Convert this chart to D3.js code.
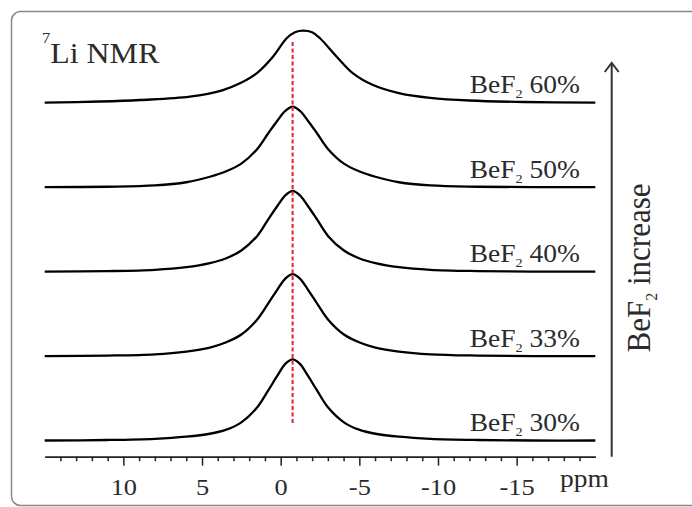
<!DOCTYPE html>
<html>
<head>
<meta charset="utf-8">
<script src="https://cdn.jsdelivr.net/npm/d3@7"></script>
<style>
  body { margin: 0; background: #fff; }
  text { font-family: "Liberation Serif", "Times New Roman", serif; fill: #2b2b2b; }
</style>
</head>
<body>
<script>
var width = 692, height = 507;

// chemical shift grid (ppm) shared by the four narrow spectra
var ppmNarrow = [15, 11, 8, 6, 4.5, 3.5, 2.5, 1.5, 0.8, 0.2, -0.31, -0.76, -1.21, -1.72, -2.32, -3.02, -4.02, -5.02, -6.02, -7.52, -9.52, -12.52, -16, -20];
var int30 = [0, 0.006, 0.02, 0.045, 0.08, 0.125, 0.215, 0.39, 0.59, 0.77, 0.91, 0.961, 0.91, 0.77, 0.59, 0.39, 0.215, 0.125, 0.08, 0.045, 0.02, 0.006, 0, 0];
var int33 = [0, 0.006, 0.021, 0.053, 0.10, 0.16, 0.255, 0.43, 0.62, 0.79, 0.92, 0.97, 0.92, 0.79, 0.62, 0.43, 0.255, 0.16, 0.10, 0.053, 0.021, 0.006, 0, 0];
var int40 = [0, 0.006, 0.021, 0.052, 0.10, 0.155, 0.25, 0.42, 0.615, 0.78, 0.905, 0.955, 0.905, 0.78, 0.615, 0.42, 0.25, 0.155, 0.10, 0.052, 0.021, 0.006, 0, 0];
var int50 = [0, 0.005, 0.02, 0.058, 0.123, 0.185, 0.279, 0.45, 0.635, 0.79, 0.905, 0.954, 0.905, 0.79, 0.635, 0.45, 0.279, 0.185, 0.123, 0.058, 0.02, 0.005, 0, 0];
// BeF2 60% is broader and shifted
var ppm60 = [15, 11.5, 8.94, 5.77, 3.67, 2.59, 1.53, 0.49, -0.38, -0.91, -1.44, -1.99, -2.5, -3.56, -4.6, -5.87, -7.58, -9.5, -12, -15.5, -20];
var int60 = [0, 0.014, 0.032, 0.071, 0.150, 0.230, 0.348, 0.545, 0.763, 0.835, 0.853, 0.835, 0.763, 0.545, 0.348, 0.21, 0.111, 0.058, 0.026, 0.008, 0];

var labels = ["30%", "33%", "40%", "50%", "60%"];
var majorTicks = [10, 5, 0, -5, -10, -15];
var minorTicks = d3.range(14, -20, -1).filter(function(d) { return d % 5 != 0; });
var refShift = -0.76; // red dashed reference line
var refSpan = [0.19, 4.72];

var spectra = [
  { ppm: ppmNarrow, val: int30 },
  { ppm: ppmNarrow, val: int33 },
  { ppm: ppmNarrow, val: int40 },
  { ppm: ppmNarrow, val: int50 },
  { ppm: ppm60, val: int60 }
];

var svg = d3.select("body").append("svg").attr("width", width).attr("height", height);

// rounded frame
svg.append("rect")
  .attr("x", 11.5).attr("y", 11.5)
  .attr("width", 720).attr("height", 494)
  .attr("rx", 9)
  .attr("fill", "none")
  .attr("stroke", "#888")
  .attr("stroke-width", 1.5);

var x = d3.scaleLinear().domain([15, -20]).range([44.7, 595.3]);
var y = d3.scaleLinear().domain([0, 5]).range([440.5, 440.5 - 5 * 84.45]);

var line = d3.line()
  .x(function(d) { return x(d[0]); })
  .y(function(d) { return y(d[1]); })
  .curve(d3.curveCatmullRom.alpha(0.5));

spectra.forEach(function(s, i) {
  var pts = s.ppm.map(function(p, j) { return [p, s.val[j] + i]; });
  svg.append("path")
    .attr("d", line(pts))
    .attr("fill", "none")
    .attr("stroke", "#000")
    .attr("stroke-width", 2.3)
    .attr("stroke-linejoin", "round");

  var t = svg.append("text")
    .attr("text-anchor", "end")
    .attr("font-size", 25)
    .attr("transform", "translate(580," + (y(i) - 9.5) + ") scale(1.1,1)");
  t.append("tspan").text("BeF");
  t.append("tspan").attr("font-size", 13).attr("dy", 5).text("2");
  t.append("tspan").attr("dy", -5).text(" " + labels[i]);
});

// reference line
svg.append("line")
  .attr("x1", x(refShift)).attr("x2", x(refShift))
  .attr("y1", y(refSpan[1])).attr("y2", y(refSpan[0]))
  .attr("stroke", "#e8303c")
  .attr("stroke-width", 2.2)
  .attr("stroke-dasharray", "4,2.5");

// x axis
var axisY = 456.7;
var gMinor = svg.append("g").attr("transform", "translate(0," + axisY + ")")
  .call(d3.axisBottom(x).tickValues(minorTicks).tickSize(4.5).tickSizeOuter(0).tickFormat(""));
var gMajor = svg.append("g").attr("transform", "translate(0," + axisY + ")")
  .call(d3.axisBottom(x).tickValues(majorTicks).tickSize(9).tickSizeOuter(0).tickPadding(12).tickFormat(d3.format("d")));
[gMinor, gMajor].forEach(function(g) {
  g.selectAll("path").attr("stroke", "#222").attr("stroke-width", 1.5);
  g.selectAll("line").attr("stroke", "#222").attr("stroke-width", 1.5);
});
gMajor.selectAll("text")
  .attr("font-size", 24)
  .attr("fill", "#2b2b2b")
  .attr("transform", "scale(1.1,1)")
  .text(function(d) { return d < 0 ? "-" + (-d) : d; });

svg.append("text")
  .attr("font-size", 25)
  .attr("transform", "translate(560,487) scale(1.1,1)")
  .text("ppm");

// title
var title = svg.append("text")
  .attr("font-size", 29)
  .attr("transform", "translate(42,63.3) scale(1.1,1)");
title.append("tspan").attr("font-size", 15).attr("dy", -20).text("7");
title.append("tspan").attr("dy", 20).text("Li NMR");

// increase arrow
var arrowX = 611.7;
svg.append("line")
  .attr("x1", arrowX).attr("x2", arrowX)
  .attr("y1", axisY).attr("y2", 63)
  .attr("stroke", "#333").attr("stroke-width", 2);
svg.append("path")
  .attr("d", "M" + (arrowX - 7) + ",72 L" + arrowX + ",63 L" + (arrowX + 7) + ",72")
  .attr("fill", "none").attr("stroke", "#333").attr("stroke-width", 2);

var side = svg.append("text")
  .attr("text-anchor", "middle")
  .attr("font-size", 31)
  .attr("transform", "translate(650,268) scale(1.1,1) rotate(-90)");
side.append("tspan").text("BeF");
side.append("tspan").attr("font-size", 16).attr("dy", 6).text("2");
side.append("tspan").attr("dy", -6).text(" increase");
</script>
</body>
</html>
